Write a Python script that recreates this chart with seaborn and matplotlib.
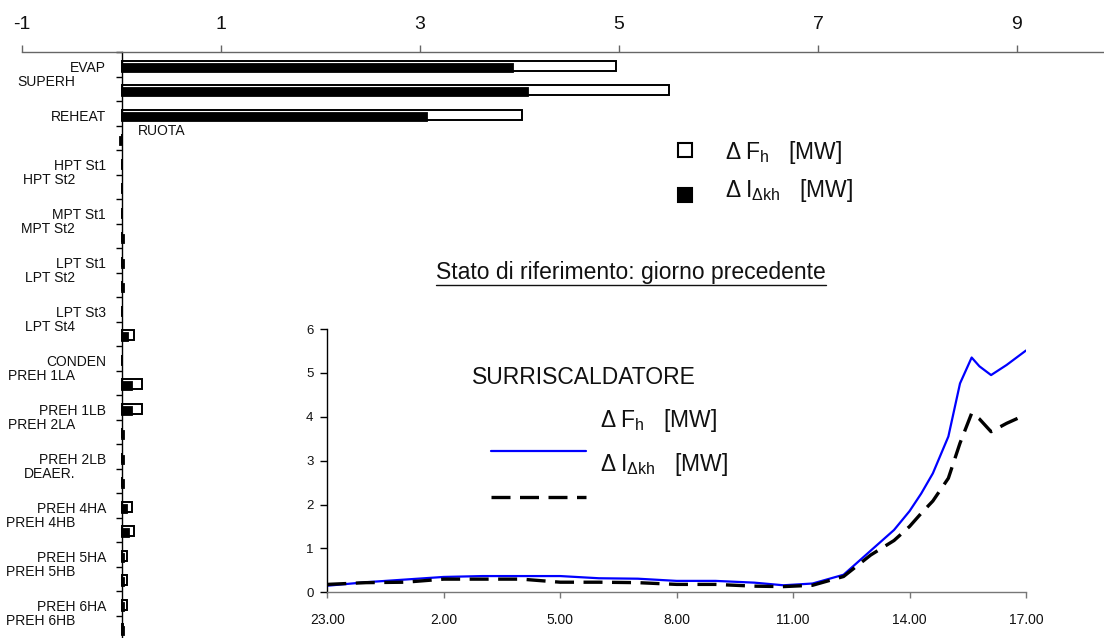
import matplotlib
matplotlib.use('Agg')
import matplotlib.pyplot as plt
from matplotlib.patches import Rectangle
from matplotlib.lines import Line2D
from matplotlib.transforms import blended_transform_factory, IdentityTransform
import numpy as np
import pandas as pd
import seaborn as sns

# bar chart data (MW)
cats = ['EVAP', 'SUPERH', 'REHEAT', 'RUOTA', 'HPT St1', 'HPT St2', 'MPT St1', 'MPT St2',
        'LPT St1', 'LPT St2', 'LPT St3', 'LPT St4', 'CONDEN', 'PREH 1LA', 'PREH 1LB',
        'PREH 2LA', 'PREH 2LB', 'DEAER.', 'PREH 4HA', 'PREH 4HB', 'PREH 5HA', 'PREH 5HB',
        'PREH 6HA', 'PREH 6HB']
dF = [4.97, 5.50, 4.03, 0.0, 0.0, 0.0, 0.0, 0.01, 0.01, 0.01, 0.0, 0.13, 0.0, 0.21, 0.21,
      0.01, 0.01, 0.01, 0.11, 0.13, 0.06, 0.06, 0.06, 0.02]
dI = [3.93, 4.09, 3.07, -0.02, 0.0, 0.0, 0.0, 0.03, 0.03, 0.03, 0.0, 0.07, 0.0, 0.11, 0.11,
      0.03, 0.03, 0.03, 0.06, 0.08, 0.03, 0.03, 0.03, 0.03]
top_ticks = [-1, 1, 3, 5, 7, 9]

# inset: superheater, hours from 23.00 of the previous day
hours = [0, 1, 2, 3, 4, 5, 6, 7, 8, 9, 10, 11, 11.75, 12.5, 13.3, 14, 14.6, 15, 15.3,
         15.6, 16, 16.3, 16.6, 16.8, 17.1, 17.5, 18]
fh = [0.15, 0.23, 0.29, 0.35, 0.37, 0.37, 0.37, 0.32, 0.31, 0.26, 0.26, 0.22, 0.16, 0.20,
      0.40, 0.95, 1.42, 1.85, 2.25, 2.71, 3.55, 4.76, 5.35, 5.15, 4.95, 5.18, 5.51]
ikh = [0.18, 0.22, 0.23, 0.30, 0.30, 0.30, 0.23, 0.23, 0.22, 0.18, 0.18, 0.14, 0.13, 0.16,
       0.36, 0.85, 1.18, 1.50, 1.80, 2.08, 2.60, 3.40, 4.08, 3.95, 3.66, 3.85, 4.05]
hour_ticks = [0, 3, 6, 9, 12, 15, 18]
hour_labels = ['23.00', '2.00', '5.00', '8.00', '11.00', '14.00', '17.00']

sns.set_theme(style='white')
plt.rcParams['font.family'] = ['Liberation Sans', 'DejaVu Sans']
plt.rcParams['mathtext.fontset'] = 'custom'
plt.rcParams['mathtext.rm'] = 'Liberation Sans'
plt.rcParams['mathtext.it'] = 'Liberation Sans'
plt.rcParams['mathtext.bf'] = 'Liberation Sans:bold'

W, H = 1104, 638
fig = plt.figure(figsize=(W / 100, H / 100), dpi=100)

def fx(px):
    return px / W

def fy(py):
    return 1 - py / H

txt = '#111111'
big = 16.5

# ---- main horizontal bar chart
ax = fig.add_axes([fx(22), fy(640.3), fx(1104) - fx(22), fy(52.3) - fy(640.3)])
ax.patch.set_alpha(0)
df = pd.DataFrame({'cat': cats, 'dF': dF, 'dI': dI})
sns.barplot(data=df, x='dF', y='cat', order=cats, orient='h', color='white', saturation=1,
            edgecolor='black', linewidth=1.4, width=0.40, errorbar=None, ax=ax)
n0 = len(ax.patches)
sns.barplot(data=df, x='dI', y='cat', order=cats, orient='h', color='black', saturation=1,
            edgecolor='black', linewidth=1.3, width=0.32, errorbar=None, ax=ax)
for p in ax.patches[:n0]:
    p.set_y(p.get_y() + 0.05)
for p in ax.patches[n0:]:
    p.set_y(p.get_y() + 0.13)

ax.set_xlim(-1, (1104 - 22) / 99.5 - 1)
ax.set_ylim(len(cats) - 0.5, -0.5)
ax.set_xlabel('')
ax.set_ylabel('')
ax.grid(False)
for s in ['right', 'bottom']:
    ax.spines[s].set_visible(False)
ax.spines['left'].set_position(('data', 0))
ax.spines['left'].set_color('black')
ax.spines['left'].set_linewidth(1.0)
ax.spines['top'].set_color('#666666')
ax.spines['top'].set_linewidth(1.0)
ax.xaxis.tick_top()
ax.set_xticks(top_ticks)
ax.set_xticklabels([str(t) for t in top_ticks])
ax.tick_params(axis='x', direction='out', length=5, width=1, color='#666666', labelsize=14,
               pad=9, top=True, bottom=False, labeltop=True, labelbottom=False, labelcolor=txt)
ax.set_yticks(np.arange(len(cats) + 1) - 0.5)
ax.set_yticklabels([])
ax.tick_params(axis='y', direction='out', length=4.5, width=1, color='black', left=True)

# staggered category labels like the original
trans = blended_transform_factory(fig.transFigure, ax.transData)
for i, c in enumerate(cats):
    if c == 'RUOTA':
        ax.text(fx(138), i - 0.27, c, ha='left', va='center', fontsize=10, color=txt, transform=trans)
    elif i % 2 == 0:
        ax.text(fx(106), i + 0.14, c, ha='right', va='center', fontsize=10, color=txt, transform=trans)
    else:
        ax.text(fx(75), i - 0.27, c, ha='right', va='center', fontsize=10, color=txt, transform=trans)

# legend of the bars
fig.add_artist(Rectangle((fx(678), fy(157)), 14 / W, 14 / H, facecolor='white', edgecolor='black',
                         lw=1.5, transform=fig.transFigure))
fig.add_artist(Rectangle((fx(678), fy(202)), 14 / W, 14 / H, facecolor='black', edgecolor='black',
                         lw=1.5, transform=fig.transFigure))
fig.text(fx(725), fy(152), r'$\Delta\;F_h$   [MW]', fontsize=big, va='center', ha='left', color=txt)
fig.text(fx(725), fy(190), r'$\Delta\;I_{\Delta kh}$   [MW]', fontsize=big, va='center', ha='left', color=txt)

# ---- inset line chart
ax2 = fig.add_axes([fx(327.3), fy(592.3), fx(1026) - fx(327.3), fy(329) - fy(592.3)])
ax2.patch.set_alpha(0)
sns.lineplot(x=hours, y=fh, ax=ax2, color='#0000ff', lw=1.6)
sns.lineplot(x=hours, y=ikh, ax=ax2, color='black', lw=2.4, linestyle=(0, (5.7, 2.85)))
ax2.set_xlim(0, 18)
ax2.set_ylim(0, 6)
ax2.set_xticks(hour_ticks)
ax2.set_xticklabels(hour_labels)
ax2.set_yticks(range(7))
ax2.grid(False)
for s in ['right', 'top']:
    ax2.spines[s].set_visible(False)
ax2.spines['left'].set_color('black')
ax2.spines['left'].set_linewidth(1.0)
ax2.spines['bottom'].set_color('#777777')
ax2.spines['bottom'].set_linewidth(1.0)
ax2.tick_params(axis='x', direction='out', length=4, width=1, color='#777777', labelsize=10,
                pad=11, bottom=True, labelcolor=txt)
ax2.tick_params(axis='y', direction='out', length=5, width=1, color='black', labelsize=9.5,
                pad=5, left=True, labelcolor=txt)

fig.text(fx(472), fy(377.5), 'SURRISCALDATORE', fontsize=big, va='center', ha='left', color=txt)
fig.text(fx(600), fy(421), r'$\Delta\;F_h$   [MW]', fontsize=big, va='center', ha='left', color=txt)
fig.text(fx(600), fy(465), r'$\Delta\;I_{\Delta kh}$   [MW]', fontsize=big, va='center', ha='left', color=txt)
fig.add_artist(Line2D([fx(490.7), fx(585.7)], [fy(451), fy(451)], color='#0000ff', lw=1.6,
                      transform=fig.transFigure))
fig.add_artist(Line2D([fx(490.7), fx(585.7)], [fy(497), fy(497)], color='black', lw=2.4,
                      ls=(0, (5.7, 2.85)), transform=fig.transFigure))

# underlined caption
t = fig.text(fx(631), fy(272), 'Stato di riferimento: giorno precedente', fontsize=big,
             ha='center', va='center', color=txt)
fig.canvas.draw()
bb = t.get_window_extent()
fig.add_artist(Line2D([bb.x0, bb.x1], [bb.y0 - 1, bb.y0 - 1], color=txt, lw=1,
                      transform=IdentityTransform()))

fig.savefig('out.png', dpi=100)
